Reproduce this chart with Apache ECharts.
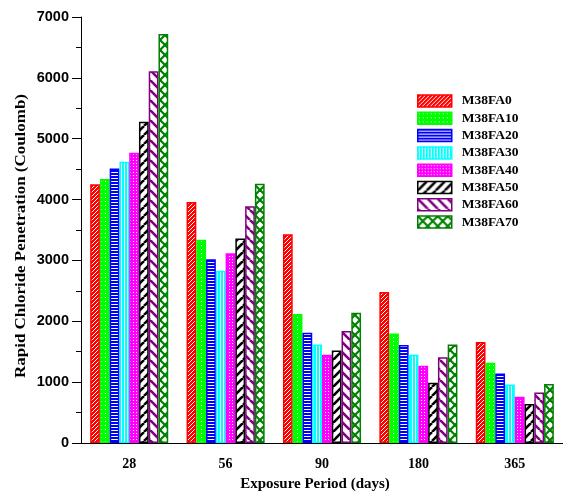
<!DOCTYPE html>
<html>
<head>
<meta charset="utf-8">
<script src="https://cdn.jsdelivr.net/npm/echarts@6/dist/echarts.min.js"></script>
<style>
html,body{margin:0;padding:0;background:#fff;}
#chart{width:563px;height:493px;}
</style>
</head>
<body>
<div id="chart"></div>
<script>
// ---- data ----
var categories = ['28', '56', '90', '180', '365'];
var seriesNames = ['M38FA0', 'M38FA10', 'M38FA20', 'M38FA30', 'M38FA40', 'M38FA50', 'M38FA60', 'M38FA70'];
var M38FA0  = [4250, 3960, 3430, 2480, 1660];
var M38FA10 = [4340, 3340, 2120, 1800, 1320];
var M38FA20 = [4510, 3020, 1810, 1610, 1140];
var M38FA30 = [4620, 2830, 1620, 1450, 960];
var M38FA40 = [4770, 3120, 1450, 1270, 760];
var M38FA50 = [5280, 3360, 1520, 990, 640];
var M38FA60 = [6110, 3890, 1840, 1410, 830];
var M38FA70 = [6720, 4260, 2140, 1620, 970];
var seriesValues = [M38FA0, M38FA10, M38FA20, M38FA30, M38FA40, M38FA50, M38FA60, M38FA70];
var yTicks = [0, 1000, 2000, 3000, 4000, 5000, 6000, 7000];
var xTitle = 'Exposure Period (days)';
var yTitle = 'Rapid Chloride Penetration (Coulomb)';

// ---- patterns ----
function tile(w, h, bg, draw) {
  var c = document.createElement('canvas');
  c.width = w; c.height = h;
  var ctx = c.getContext('2d');
  ctx.fillStyle = bg; ctx.fillRect(0, 0, w, h);
  draw(ctx, w, h);
  return c;
}
function diag(ctx, w, h, color, lw, dir) {
  ctx.strokeStyle = color; ctx.lineWidth = lw;
  for (var k = -1; k <= 1; k++) {
    ctx.beginPath();
    if (dir > 0) { ctx.moveTo(k * w, h); ctx.lineTo(k * w + w, 0); }
    else { ctx.moveTo(k * w, 0); ctx.lineTo(k * w + w, h); }
    ctx.stroke();
  }
}
var seriesColors = ['#ff0000', '#00ff00', '#0000ff', '#00ffff', '#ff00ff', '#000000', '#800080', '#008000'];
var patterns = [
  tile(4, 4, '#ff0000', function (ctx, w, h) { diag(ctx, w, h, '#ffffff', 1, 1); }),
  tile(4, 4, '#00ff00', function (ctx) { ctx.fillStyle = '#ffffff'; ctx.fillRect(1, 1, 1, 1); }),
  tile(4, 3, '#0000ff', function (ctx) { ctx.fillStyle = '#ffffff'; ctx.fillRect(0, 1, 4, 1); }),
  tile(3, 4, '#00ffff', function (ctx) { ctx.fillStyle = '#ffffff'; ctx.fillRect(1, 0, 1, 4); }),
  tile(3, 3, '#ff00ff', function (ctx) { ctx.fillStyle = '#ffffff'; ctx.fillRect(1, 1, 1, 1); }),
  tile(9, 9, '#ffffff', function (ctx, w, h) { diag(ctx, w, h, '#000000', 2.6, 1); }),
  tile(10, 10, '#ffffff', function (ctx, w, h) { diag(ctx, w, h, '#800080', 2.6, -1); }),
  tile(10, 10, '#ffffff', function (ctx, w, h) { diag(ctx, w, h, '#008000', 2.2, 1); diag(ctx, w, h, '#008000', 2.2, -1); })
];

var series = seriesNames.map(function (name, i) {
  return {
    name: name,
    type: 'bar',
    data: seriesValues[i],
    barGap: '0%',
    barCategoryGap: '19%',
    itemStyle: {
      color: { image: patterns[i], repeat: 'repeat' },
      borderColor: seriesColors[i],
      borderWidth: 1.5
    },
    emphasis: { disabled: true }
  };
});

var chart = echarts.init(document.getElementById('chart'), null, { renderer: 'canvas' });
chart.setOption({
  animation: false,
  backgroundColor: '#ffffff',
  grid: { left: 81, right: -6, top: 17, bottom: 50, containLabel: false },
  legend: {
    orient: 'vertical',
    left: 417,
    top: 94,
    padding: 0,
    itemWidth: 34,
    itemHeight: 12,
    itemGap: 3.3,
    icon: 'rect',
    data: seriesNames,
    selectedMode: false,
    textStyle: {
      fontFamily: 'Liberation Serif', fontWeight: 'bold', fontSize: 13.5, color: '#000',
      padding: [0, 0, 0, 5]
    },
    itemStyle: { borderWidth: 1.5 }
  },
  xAxis: {
    type: 'category',
    data: categories,
    axisLine: { lineStyle: { color: '#000', width: 1 } },
    axisTick: { alignWithLabel: true, length: 5, lineStyle: { color: '#000' } },
    axisLabel: { margin: 14, color: '#000', fontFamily: 'Liberation Serif', fontWeight: 'bold', fontSize: 14 },
    splitLine: { show: false }
  },
  yAxis: {
    type: 'value',
    min: yTicks[0],
    max: yTicks[yTicks.length - 1],
    interval: yTicks[1] - yTicks[0],
    axisLine: { show: true, lineStyle: { color: '#000', width: 1 } },
    axisTick: { show: true, length: 9, lineStyle: { color: '#000' } },
    minorTick: { show: true, splitNumber: 2, length: 5, lineStyle: { color: '#000' } },
    axisLabel: {
      margin: 12, color: '#000', fontFamily: 'Liberation Sans', fontWeight: 'bold', fontSize: 14.5,
      formatter: function (v) { return String(v); }
    },
    splitLine: { show: false }
  },
  graphic: [{
    type: 'text',
    x: 315,
    y: 484,
    style: { text: xTitle, font: 'bold 15px "Liberation Serif"', fill: '#000', align: 'center', verticalAlign: 'middle' }
  }, {
    type: 'text',
    x: 21,
    y: 236,
    rotation: Math.PI / 2,
    scaleX: 1.13,
    style: { text: yTitle, font: 'bold 15px "Liberation Serif"', fill: '#000', align: 'center', verticalAlign: 'middle' }
  }],
  series: series
});
</script>
</body>
</html>
